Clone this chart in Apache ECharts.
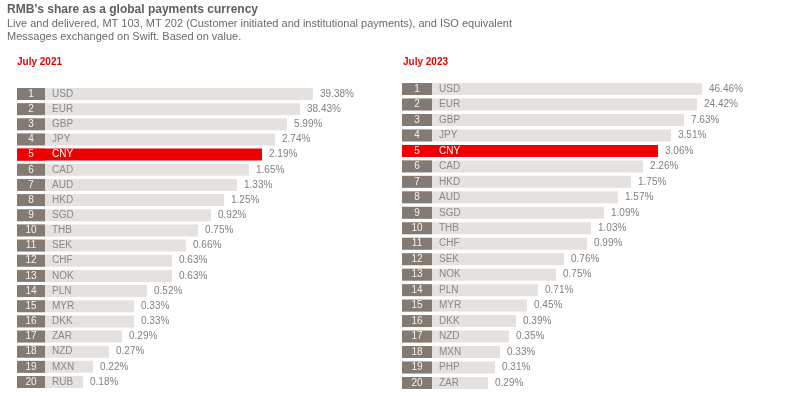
<!DOCTYPE html>
<html><head><meta charset="utf-8">
<script src="https://cdn.jsdelivr.net/npm/echarts@6/dist/echarts.min.js"></script>
<style>html,body{margin:0;padding:0;background:#fff}#c{width:789px;height:405px}</style>
</head><body><div id="c"></div>
<script>
// Data
const ranks = [1,2,3,4,5,6,7,8,9,10,11,12,13,14,15,16,17,18,19,20];
const codes2021 = ['USD','EUR','GBP','JPY','CNY','CAD','AUD','HKD','SGD','THB','SEK','CHF','NOK','PLN','MYR','DKK','ZAR','NZD','MXN','RUB'];
const share2021 = [39.38,38.43,5.99,2.74,2.19,1.65,1.33,1.25,0.92,0.75,0.66,0.63,0.63,0.52,0.33,0.33,0.29,0.27,0.22,0.18];
// decorative (rank-based) bar lengths
const barLen2021 = [296,283,270,258,245,232,220,207,194,181,169,155,155,130,117,117,105,92,76,66];
const codes2023 = ['USD','EUR','GBP','JPY','CNY','CAD','HKD','AUD','SGD','THB','CHF','SEK','NOK','PLN','MYR','DKK','NZD','MXN','PHP','ZAR'];
const share2023 = [46.46,24.42,7.63,3.51,3.06,2.26,1.75,1.57,1.09,1.03,0.99,0.76,0.75,0.71,0.45,0.39,0.35,0.33,0.31,0.29];
const barLen2023 = [308,295,282,269,256,241,229,216,202,189,185,162,154,136,125,114,107,98,93,86];

const FONT = 'Arial, "Liberation Sans", sans-serif';
const RED = '#ee0000', LIGHT = '#e5e1de', DARK = '#857a72';

function panel(idx, codes, shares, lens, boxW){
  const hi = i => codes[i] === 'CNY';
  return [
    { type:'bar', xAxisIndex:idx, yAxisIndex:idx, barWidth:12, barGap:'-100%', silent:true,
      data: lens.map((v,i)=>({value:v, itemStyle:{color: hi(i)?RED:LIGHT},
        label:{color: hi(i)?'#fff':'#8a8a8a'}})),
      label:{show:true, position:'insideLeft', distance:0, offset:[boxW+7,0], fontSize:10, fontFamily:FONT,
        formatter:p=>codes[p.dataIndex]} },
    { type:'bar', xAxisIndex:idx, yAxisIndex:idx, barWidth:12, barGap:'-100%', silent:true,
      data: lens.map((v,i)=>({value:boxW, itemStyle:{color: hi(i)?RED:DARK}})),
      label:{show:true, position:'inside', color:'#f4f2f0', fontSize:10, fontFamily:FONT,
        formatter:p=>String(ranks[p.dataIndex])} },
    { type:'bar', xAxisIndex:idx, yAxisIndex:idx, barWidth:12, barGap:'-100%', silent:true,
      data: lens, itemStyle:{color:'rgba(0,0,0,0)'},
      label:{show:true, position:'right', distance:7, color:'#808080', fontSize:10, fontFamily:FONT,
        formatter:p=>shares[p.dataIndex].toFixed(2)+'%'} }
  ];
}

const chart = echarts.init(document.getElementById('c'), null, {renderer:'canvas'});
chart.setOption({
  animation:false,
  backgroundColor:'#fff',
  title:[
    {text:"RMB’s share as a global payments currency", left:7, top:4, padding:0,
     textStyle:{fontSize:12, fontWeight:'bold', color:'#5f5f5f', fontFamily:FONT}},
    {text:"Live and delivered, MT 103, MT 202 (Customer initiated and institutional payments), and ISO equivalent\nMessages exchanged on Swift. Based on value.", left:7, top:17, padding:0,
     textStyle:{fontSize:11, fontWeight:'normal', color:'#6a6a6a', lineHeight:13, fontFamily:FONT}},
    {text:'July 2021', left:17, top:57, padding:0, textStyle:{fontSize:10, fontWeight:'bold', color:RED, fontFamily:FONT}},
    {text:'July 2023', left:403, top:57, padding:0, textStyle:{fontSize:10, fontWeight:'bold', color:RED, fontFamily:FONT}}
  ],
  grid:[
    {left:17, top:86.4, width:300, height:303.2},
    {left:402, top:81.3, width:300, height:309.4}
  ],
  xAxis:[
    {gridIndex:0, type:'value', min:0, max:300, show:false},
    {gridIndex:1, type:'value', min:0, max:300, show:false}
  ],
  yAxis:[
    {gridIndex:0, type:'category', data:codes2021, inverse:true, show:false},
    {gridIndex:1, type:'category', data:codes2023, inverse:true, show:false}
  ],
  series:[...panel(0, codes2021, share2021, barLen2021, 28), ...panel(1, codes2023, share2023, barLen2023, 30)]
});
</script></body></html>
